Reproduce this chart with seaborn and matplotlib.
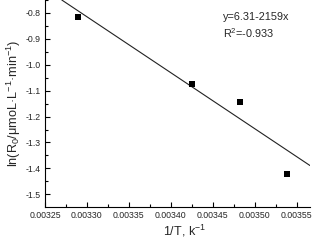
import matplotlib
matplotlib.use("Agg")
import matplotlib.pyplot as plt
import seaborn as sns
import pandas as pd
from matplotlib.ticker import MultipleLocator

inv_T = [0.003289, 0.003425, 0.003483, 0.003539]
ln_R0 = [-0.815, -1.074, -1.142, -1.420]
fit_intercept = 6.31
fit_slope = -2159
eq_text = "y=6.31-2159x"
r2_text = "R$^{2}$=-0.933"

sns.set_theme(style="ticks")
plt.rcParams['font.family'] = ['Liberation Sans', 'DejaVu Sans']
plt.rcParams['mathtext.fontset'] = 'custom'
plt.rcParams['mathtext.rm'] = 'Liberation Sans'
plt.rcParams['mathtext.it'] = 'Liberation Sans'

fig = plt.figure(figsize=(3.12, 2.43), dpi=100)
ax = fig.add_axes([45/312, 36/243, 265/312, 207/243])

df = pd.DataFrame({"x": inv_T, "y": ln_R0})
sns.scatterplot(data=df, x="x", y="y", ax=ax, marker="s", s=16,
                color="black", edgecolor="black", linewidth=0, zorder=3)
ax.axline((0, fit_intercept), slope=fit_slope, color="#222222", lw=0.8)

ax.set_xlim(0.00325, 0.003566)
ax.set_ylim(-1.549, -0.75)
ax.xaxis.set_major_locator(MultipleLocator(0.00005))
ax.xaxis.set_minor_locator(MultipleLocator(0.000025))
ax.yaxis.set_major_locator(MultipleLocator(0.1))
ax.yaxis.set_minor_locator(MultipleLocator(0.05))
ax.set_xticklabels([f"{v:.5f}" for v in ax.get_xticks()])
ax.set_yticklabels([f"{v:.1f}" for v in ax.get_yticks()])
ax.tick_params(which="both", direction="in", width=0.8, color="black",
               labelsize=6.3, pad=3)
ax.tick_params(which="major", length=3.5)
ax.tick_params(which="minor", length=2)
for s in ["top", "right"]:
    ax.spines[s].set_visible(False)
for s in ["left", "bottom"]:
    ax.spines[s].set_linewidth(0.8)
    ax.spines[s].set_color("black")

ax.set_xlabel("1/T, k$^{-1}$", fontsize=9, labelpad=4)
ax.xaxis.set_label_coords(0.525, -0.075)
ax.xaxis.label.set_va("top")
ax.set_ylabel("ln(R$_0$/μmoL·L$^{-1}$·min$^{-1}$)", fontsize=9.2, labelpad=2)

ax.text(0.67, 0.92, eq_text, transform=ax.transAxes, fontsize=7.8, va="center")
ax.text(0.67, 0.84, r2_text, transform=ax.transAxes, fontsize=7.8, va="center")

fig.savefig("out.png", dpi=100)
